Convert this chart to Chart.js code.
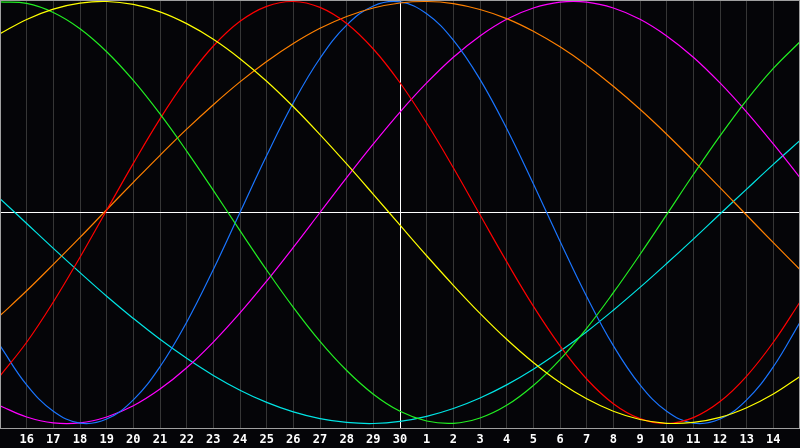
<!DOCTYPE html>
<html>
<head>
<meta charset="utf-8">
<script src="https://cdn.jsdelivr.net/npm/chart.js@4.4.1/dist/chart.umd.min.js"></script>
<style>
  html, body { margin: 0; padding: 0; background: #050508; }
  #wrap { width: 800px; height: 448px; position: relative; }
</style>
</head>
<body>
<div id="wrap"><canvas id="c" width="800" height="448"></canvas></div>
<script>
// Day labels (x = 0 .. 30)
const days = ['15','16','17','18','19','20','21','22','23','24','25','26','27','28','29','30',
              '1','2','3','4','5','6','7','8','9','10','11','12','13','14','15'];

// Curve values (-1 .. 1), one per day
const physical = [-0.631,-0.817,-0.942,-0.998,-0.979,-0.888,-0.731,-0.520,-0.270,0.000,
                  0.270,0.520,0.731,0.888,0.979,0.998,0.942,0.817,0.631,0.398,
                  0.136,-0.136,-0.398,-0.631,-0.817,-0.942,-0.998,-0.979,-0.888,-0.731,-0.520];
const emotional = [-0.775,-0.615,-0.424,-0.212,0.011,0.233,0.444,0.632,0.789,0.906,
                   0.977,1.000,0.972,0.896,0.775,0.615,0.424,0.212,-0.011,-0.233,
                   -0.444,-0.632,-0.789,-0.906,-0.977,-1.000,-0.972,-0.896,-0.775,-0.615,-0.424];
const intellectual = [0.998,0.991,0.948,0.871,0.762,0.626,0.467,0.291,0.105,-0.086,
                      -0.273,-0.450,-0.611,-0.749,-0.861,-0.942,-0.988,-0.999,-0.974,-0.914,
                      -0.820,-0.697,-0.549,-0.380,-0.199,-0.010,0.180,0.363,0.533,0.683,0.809];
const intuitive = [-0.916,-0.969,-0.997,-0.997,-0.969,-0.916,-0.837,-0.736,-0.614,-0.476,
                   -0.325,-0.165,0.000,0.165,0.325,0.476,0.614,0.736,0.837,0.916,
                   0.969,0.997,0.997,0.969,0.916,0.837,0.736,0.614,0.476,0.325,0.165];
const aesthetic = [0.847,0.915,0.964,0.992,1.000,0.986,0.951,0.895,0.821,0.729,
                   0.622,0.501,0.369,0.230,0.086,-0.060,-0.205,-0.345,-0.478,-0.601,
                   -0.711,-0.806,-0.883,-0.942,-0.981,-0.999,-0.995,-0.971,-0.925,-0.860,-0.777];
const awareness = [-0.489,-0.371,-0.246,-0.118,0.013,0.143,0.271,0.395,0.511,0.619,
                   0.716,0.801,0.873,0.929,0.969,0.993,1.000,0.990,0.962,0.919,
                   0.859,0.785,0.698,0.598,0.489,0.371,0.246,0.118,-0.013,-0.143,-0.271];
const spiritual = [0.066,-0.052,-0.170,-0.285,-0.397,-0.502,-0.601,-0.691,-0.772,-0.842,
                   -0.900,-0.945,-0.977,-0.995,-1.000,-0.990,-0.966,-0.929,-0.879,-0.817,
                   -0.743,-0.658,-0.565,-0.463,-0.355,-0.242,-0.126,-0.007,0.111,0.228,0.341];

const todayIndex = 15;

const frame = {
  id: 'frame',
  beforeDraw(chart) {
    const c = chart.ctx;
    c.save();
    c.fillStyle = '#050508';
    c.fillRect(0, 0, chart.width, chart.height);
    c.restore();
  },
  afterDatasetsDraw(chart) {
    const a = chart.chartArea, c = chart.ctx;
    c.save();
    c.strokeStyle = '#a0a0a0';
    c.lineWidth = 1;
    c.strokeRect(a.left + 0.5, a.top + 0.5, a.right - a.left - 1, a.bottom - a.top);
    c.restore();
  }
};

function ds(data, color) {
  return { data, borderColor: color, borderWidth: 1.2, pointRadius: 0, pointHoverRadius: 0, tension: 0.4, fill: false };
}

new Chart(document.getElementById('c'), {
  type: 'line',
  data: {
    labels: days,
    datasets: [
      ds(aesthetic, '#ffff00'),
      ds(intellectual, '#22ee22'),
      ds(emotional, '#ff0000'),
      ds(awareness, '#ff8000'),
      ds(physical, '#1a75ff'),
      ds(intuitive, '#ff00ff'),
      ds(spiritual, '#00e5e5')
    ]
  },
  options: {
    responsive: false,
    animation: false,
    layout: { padding: 0, autoPadding: false },
    plugins: { legend: { display: false }, tooltip: { enabled: false } },
    scales: {
      x: {
        offset: false,
        afterFit: (s) => { s.paddingLeft = 0; s.paddingRight = 0; s.height = 20; },
        grid: {
          drawTicks: false,
          color: (ctx) => ctx.index === todayIndex ? '#ffffff' : '#363636',
          lineWidth: 1
        },
        border: { display: true, color: '#a0a0a0' },
        ticks: {
          autoSkip: false,
          maxRotation: 0,
          padding: 5,
          color: '#ffffff',
          font: { family: 'DejaVu Sans Mono', size: 12, weight: 'bold' },
          callback: (v, i) => (i === 0 || i === days.length - 1) ? '' : days[i]
        }
      },
      y: {
        min: -1.0213,
        max: 1.0071,
        afterFit: (s) => { s.width = 0; },
        grid: {
          drawTicks: false,
          color: (ctx) => ctx.tick.value === 0 ? '#ffffff' : 'rgba(0,0,0,0)',
          lineWidth: 1
        },
        border: { display: false },
        ticks: { display: false, stepSize: 1 }
      }
    }
  },
  plugins: [frame]
});
</script>
</body>
</html>
